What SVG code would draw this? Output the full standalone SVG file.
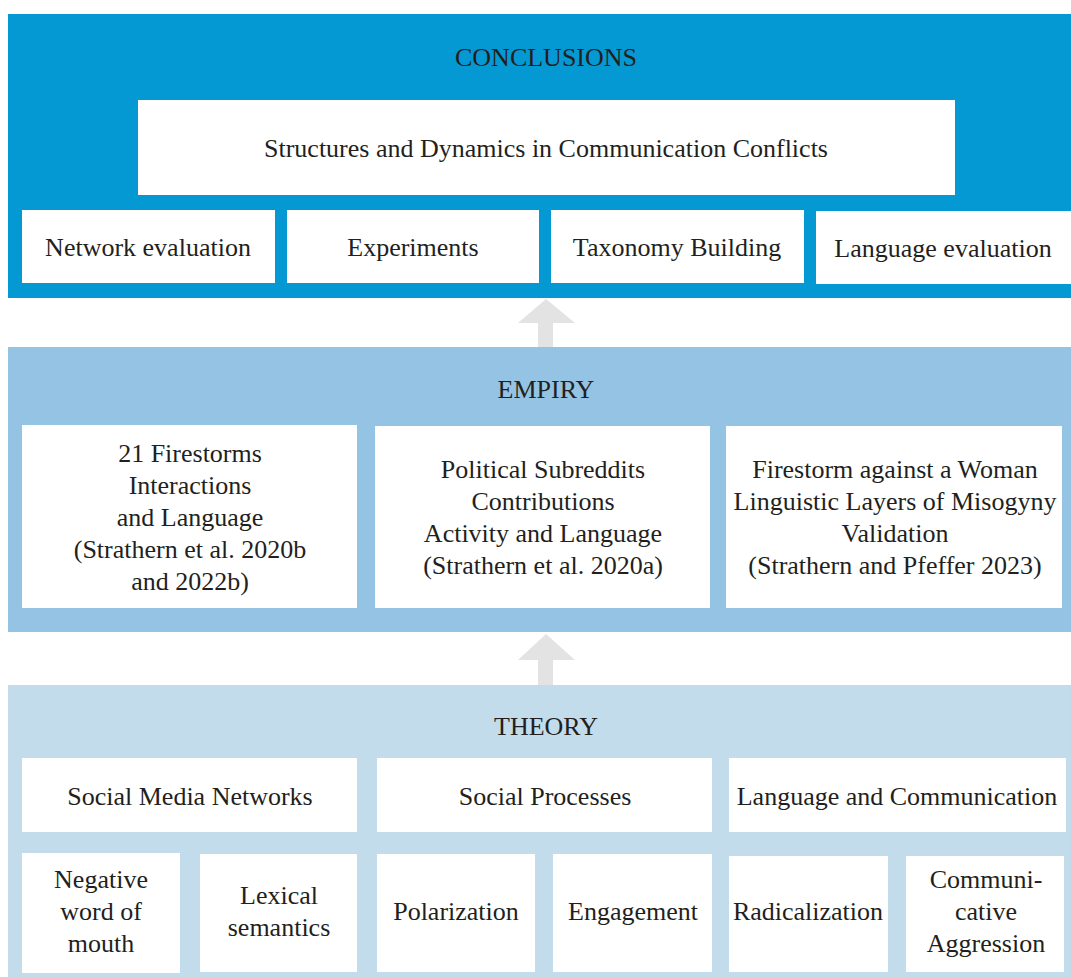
<svg xmlns="http://www.w3.org/2000/svg" width="1071" height="977" viewBox="0 0 1071 977">
  <style>
    .box { fill: #ffffff; }
    .t { font-size: 26px; fill: #231f20; text-anchor: middle; }
    .arrow { fill: #e3e3e3; }
  </style>
  <rect width="1071" height="977" fill="#ffffff"/>

  <g style="font-family: 'Liberation Serif', 'Tinos', 'DejaVu Serif', serif">
  <!-- layer bands -->
  <g id="conclusions">
    <rect x="8" y="14" width="1063" height="284" fill="#0499d3"/>
    <text class="t" x="546" y="66">CONCLUSIONS</text>
  </g>
  <g id="empiry">
    <rect x="8" y="347" width="1063" height="285" fill="#95c3e3"/>
    <text class="t" x="546" y="398">EMPIRY</text>
  </g>
  <g id="theory">
    <rect x="8" y="685" width="1063" height="292" fill="#c3dcec"/>
    <text class="t" x="546" y="735">THEORY</text>
  </g>

  <!-- connectors between layers -->
  <g id="connectors">
    <polygon class="arrow" points="546,299 575,323 553,323 553,347 538,347 538,323 518,323"/>
    <polygon class="arrow" points="546,634 575,660 553,660 553,685 538,685 538,660 518,660"/>
  </g>

  <!-- conclusions nodes -->
  <g id="structures-dynamics">
    <rect class="box" x="138" y="100" width="817" height="95"/>
    <text class="t" x="546" y="157">Structures and Dynamics in Communication Conflicts</text>
  </g>
  <g id="network-evaluation">
    <rect class="box" x="22" y="210" width="253" height="73"/>
    <text class="t" x="148" y="256">Network evaluation</text>
  </g>
  <g id="experiments">
    <rect class="box" x="287" y="210" width="252" height="73"/>
    <text class="t" x="413" y="256">Experiments</text>
  </g>
  <g id="taxonomy-building">
    <rect class="box" x="551" y="210" width="253" height="73"/>
    <text class="t" x="677" y="256">Taxonomy Building</text>
  </g>
  <g id="language-evaluation">
    <rect class="box" x="816" y="211" width="255" height="73"/>
    <text class="t" x="943" y="257">Language evaluation</text>
  </g>

  <!-- empiry nodes -->
  <g id="firestorms">
    <rect class="box" x="22" y="425" width="335" height="183"/>
    <text class="t" x="190" y="462">21 Firestorms</text>
    <text class="t" x="190" y="494">Interactions</text>
    <text class="t" x="190" y="526">and Language</text>
    <text class="t" x="190" y="558">(Strathern et al. 2020b</text>
    <text class="t" x="190" y="590">and 2022b)</text>
  </g>
  <g id="political-subreddits">
    <rect class="box" x="375" y="426" width="335" height="182"/>
    <text class="t" x="543" y="478">Political Subreddits</text>
    <text class="t" x="543" y="510">Contributions</text>
    <text class="t" x="543" y="542">Activity and Language</text>
    <text class="t" x="543" y="574">(Strathern et al. 2020a)</text>
  </g>
  <g id="firestorm-woman">
    <rect class="box" x="726" y="426" width="336" height="182"/>
    <text class="t" x="895" y="478">Firestorm against a Woman</text>
    <text class="t" x="895" y="510">Linguistic Layers of Misogyny</text>
    <text class="t" x="895" y="542">Validation</text>
    <text class="t" x="895" y="574">(Strathern and Pfeffer 2023)</text>
  </g>

  <!-- theory nodes -->
  <g id="social-media-networks">
    <rect class="box" x="22" y="758" width="335" height="74"/>
    <text class="t" x="190" y="805">Social Media Networks</text>
  </g>
  <g id="social-processes">
    <rect class="box" x="377" y="758" width="335" height="74"/>
    <text class="t" x="545" y="805">Social Processes</text>
  </g>
  <g id="language-communication">
    <rect class="box" x="729" y="758" width="337" height="74"/>
    <text class="t" x="897" y="805">Language and Communication</text>
  </g>
  <g id="negative-wom">
    <rect class="box" x="22" y="853" width="158" height="120"/>
    <text class="t" x="101" y="888">Negative</text>
    <text class="t" x="101" y="920">word of</text>
    <text class="t" x="101" y="952">mouth</text>
  </g>
  <g id="lexical-semantics">
    <rect class="box" x="200" y="854" width="157" height="118"/>
    <text class="t" x="279" y="904">Lexical</text>
    <text class="t" x="279" y="936">semantics</text>
  </g>
  <g id="polarization">
    <rect class="box" x="377" y="854" width="158" height="118"/>
    <text class="t" x="456" y="920">Polarization</text>
  </g>
  <g id="engagement">
    <rect class="box" x="553" y="854" width="159" height="118"/>
    <text class="t" x="633" y="920">Engagement</text>
  </g>
  <g id="radicalization">
    <rect class="box" x="729" y="856" width="159" height="116"/>
    <text class="t" x="808" y="920">Radicalization</text>
  </g>
  <g id="communicative-aggression">
    <rect class="box" x="906" y="856" width="158" height="116"/>
    <text class="t" x="986" y="888">Communi-</text>
    <text class="t" x="986" y="920">cative</text>
    <text class="t" x="986" y="952">Aggression</text>
  </g>
  </g>
</svg>
